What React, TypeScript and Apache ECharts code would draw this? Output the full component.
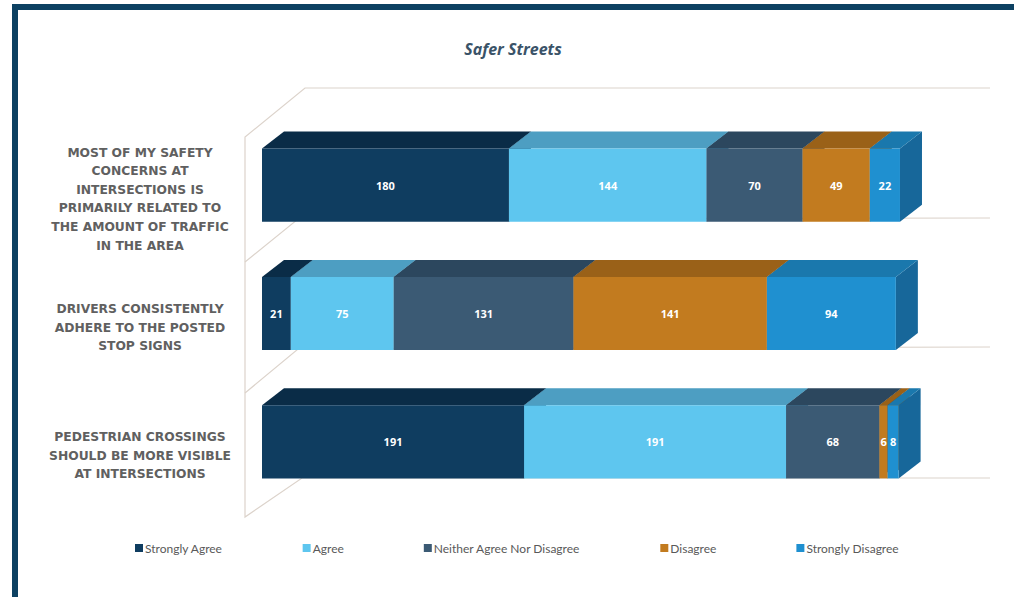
import React, { useEffect, useRef } from "react";
import * as echarts from "echarts";

const categories = [
  "MOST OF MY SAFETY\nCONCERNS AT\nINTERSECTIONS IS\nPRIMARILY RELATED TO\nTHE AMOUNT OF TRAFFIC\nIN THE AREA",
  "DRIVERS CONSISTENTLY\nADHERE TO THE POSTED\nSTOP SIGNS",
  "PEDESTRIAN CROSSINGS\nSHOULD BE MORE VISIBLE\nAT INTERSECTIONS",
];
const seriesNames = [
  "Strongly Agree",
  "Agree",
  "Neither Agree Nor Disagree",
  "Disagree",
  "Strongly Disagree",
];
const stronglyAgree = [180, 21, 191];
const agree = [144, 75, 191];
const neither = [70, 131, 68];
const disagree = [49, 141, 6];
const stronglyDisagree = [22, 94, 8];

const frontColors = ["#0f3d60", "#5ec6ef", "#3b5a74", "#c27b1f", "#1f90d0"];
const topColors = ["#0a2c47", "#4d9ec2", "#2c475e", "#9a6118", "#1a78ad"];
const sideColors = ["#0a2c47", "#3f87aa", "#2c475e", "#8a5614", "#17679a"];

const DX = 22;
const DY = 17;

export default function App() {
  const ref = useRef<HTMLDivElement>(null);
  useEffect(() => {
    if (!ref.current) return;
    const chart = echarts.init(ref.current, undefined, { renderer: "svg" });
    const values = [stronglyAgree, agree, neither, disagree, stronglyDisagree];
    const cum = categories.map(() => 0);
    const series = values.map((vals, si) => {
      const data = vals.map((v, ci) => {
        const s = cum[ci];
        cum[ci] += v;
        return [ci, s, s + v, v];
      });
      return {
        type: "custom",
        name: seriesNames[si],
        itemStyle: { color: frontColors[si] },
        encode: { x: [1, 2], y: 0 },
        xAxisIndex: 0,
        yAxisIndex: 0,
        data,
        renderItem: (params: any, api: any) => {
          const cat = api.value(0);
          const s = api.value(1);
          const e = api.value(2);
          const v = api.value(3);
          const p0 = api.coord([s, cat]);
          const p1 = api.coord([e, cat]);
          const band = api.size([0, 1])[1];
          const h = band * 0.57;
          const top = p0[1] - h / 2;
          const bot = top + h;
          const x0 = p0[0];
          const x1 = p1[0];
          return {
            type: "group",
            children: [
              {
                type: "polygon",
                shape: { points: [[x1, top], [x1 + DX, top - DY], [x1 + DX, bot - DY], [x1, bot]] },
                style: { fill: sideColors[si] },
              },
              {
                type: "polygon",
                shape: { points: [[x0, top], [x1, top], [x1 + DX, top - DY], [x0 + DX, top - DY]] },
                style: { fill: topColors[si] },
              },
              {
                type: "rect",
                shape: { x: x0, y: top, width: x1 - x0, height: h },
                style: { fill: frontColors[si] },
              },
              {
                type: "text",
                x: (x0 + x1) / 2,
                y: (top + bot) / 2,
                style: {
                  text: String(v),
                  fill: "#ffffff",
                  font: 'bold 11px "Open Sans"',
                  align: "center",
                  verticalAlign: "middle",
                },
              },
            ],
          };
        },
      };
    });

    const wall = "#dcd3cb";
    chart.setOption({
      animation: false,
      backgroundColor: "#ffffff",
      title: {
        text: "Safer Streets",
        left: 508,
        top: 36,
        textAlign: "center",
        textStyle: {
          fontFamily: "Open Sans",
          fontStyle: "italic",
          fontWeight: "bold",
          fontSize: 16,
          color: "#3a5368",
        },
      },
      legend: {
        data: seriesNames,
        left: 130,
        top: 537,
        itemWidth: 8,
        itemHeight: 8,
        itemGap: 80,
        icon: "rect",
        textStyle: { fontFamily: "Lato", fontSize: 12, color: "#595959", padding: [0, 0, 0, -3] },
      },
      grid: [
        { left: 262, right: 66, top: 121, bottom: 91 },
        { left: 262, right: 66, top: 135, bottom: 77 },
      ],
      xAxis: [
        { type: "value", min: 0, max: 500, show: false, gridIndex: 0 },
        { type: "value", min: 0, max: 500, show: false, gridIndex: 1 },
      ],
      yAxis: [
        {
          type: "category",
          gridIndex: 0,
          data: categories,
          inverse: true,
          axisLine: { show: false },
          axisTick: { show: false },
          splitLine: { show: false },
          axisLabel: { show: false },
        },
        {
          type: "category",
          gridIndex: 1,
          data: categories,
          inverse: true,
          axisLine: { show: false },
          axisTick: { show: false },
          splitLine: { show: false },
          axisLabel: {
            align: "center",
            margin: 122,
            fontFamily: "DejaVu Sans",
            fontWeight: "bold",
            fontSize: 12.3,
            lineHeight: 18.6,
            color: "#606060",
          },
        },
      ],
      graphic: [
        {
          type: "rect",
          shape: { x: 15, y: 7, width: 1010, height: 600 },
          style: { fill: "none", stroke: "#0d4162", lineWidth: 6 },
          z: 10,
        },
        { type: "polyline", shape: { points: [[990, 88], [305, 88], [245, 137], [245, 517], [302, 478], [990, 478]] }, style: { stroke: wall, fill: "none", lineWidth: 1.2 }, z: -1 },
        { type: "polyline", shape: { points: [[245, 262], [298, 219], [990, 218]] }, style: { stroke: wall, fill: "none", lineWidth: 1.2 }, z: -1 },
        { type: "polyline", shape: { points: [[245, 393], [298, 349], [990, 347]] }, style: { stroke: wall, fill: "none", lineWidth: 1.2 }, z: -1 },
      ],
      series,
    });
    return () => chart.dispose();
  }, []);
  return (
    <div
      ref={ref}
      style={{ position: "absolute", left: 0, top: 0, width: 1014, height: 597 }}
    />
  );
}
